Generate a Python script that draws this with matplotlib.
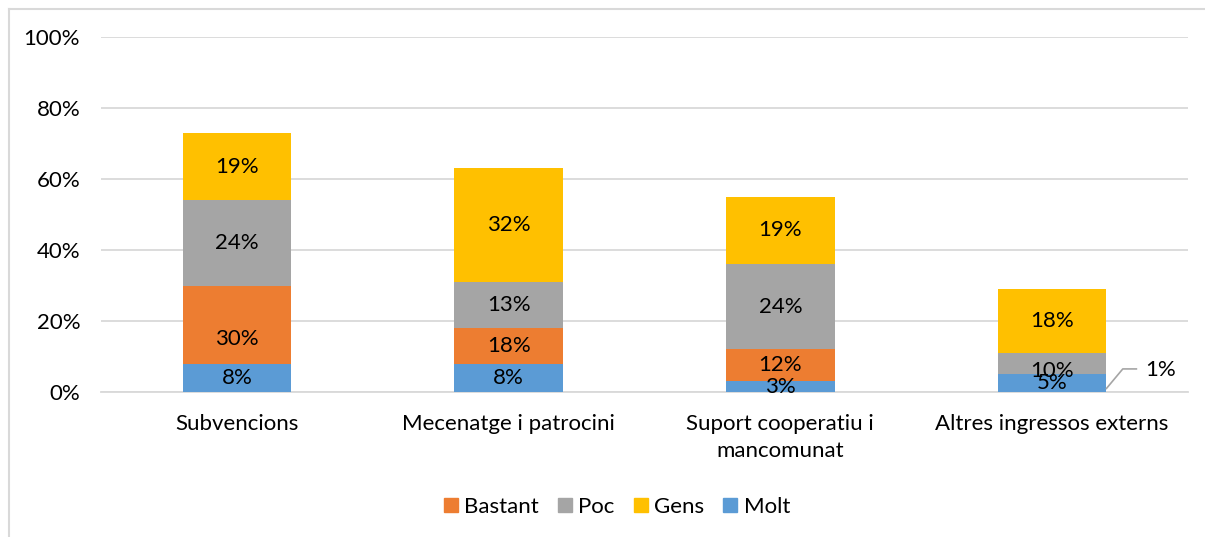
import matplotlib
matplotlib.use("Agg")
import matplotlib.pyplot as plt
from matplotlib.patches import Patch
from matplotlib.lines import Line2D
import numpy as np

categories = ["Subvencions", "Mecenatge i patrocini", "Suport cooperatiu i\nmancomunat", "Altres ingressos externs"]
bastant = [30, 18, 12, 1]
poc = [24, 13, 24, 10]
gens = [19, 32, 19, 18]
molt = [8, 8, 3, 5]
yticks = [0, 20, 40, 60, 80, 100]

C_BAS = "#ED7D31"
C_POC = "#A5A5A5"
C_GEN = "#FFC000"
C_MOL = "#5B9BD5"
GRID = "#D9D9D9"

plt.rcParams['font.family'] = ['Lato', 'DejaVu Sans']
FS = 16

fig = plt.figure(figsize=(12.05, 5.37), dpi=100)
W, H = 1205, 537
ax = fig.add_axes([101 / W, 1 - 392 / H, (1188 - 101) / W, (392 - 37) / H])

x = np.arange(len(categories))
bw = 0.4
b = np.array(bastant)
p = np.array(poc)
g = np.array(gens)
m = np.array(molt)

ax.bar(x, b, bw, color=C_BAS, zorder=2)
ax.bar(x, p, bw, bottom=b, color=C_POC, zorder=2)
ax.bar(x, g, bw, bottom=b + p, color=C_GEN, zorder=2)
ax.bar(x, m, bw, color=C_MOL, zorder=3)

for i in range(len(x)):
    # Molt label
    ax.text(x[i], max(m[i] / 2, 0.9), f"{m[i]}%", ha="center", va="center", fontsize=FS, zorder=5)
    # Bastant label
    if b[i] > m[i]:
        yb = b[i] / 2 if (b[i] / 2 - m[i]) > 5 else (m[i] + b[i]) / 2
        ax.text(x[i], yb, f"{b[i]}%", ha="center", va="center", fontsize=FS, zorder=5)
    else:
        # callout
        x0 = x[i] + bw / 2
        ax.plot([x0, x0 + 0.06, x0 + 0.11], [b[i], 6.5, 6.5], color="#A5A5A5", lw=1.2, zorder=4, clip_on=False)
        ax.text(x0 + 0.2, 6.2, f"{b[i]}%", ha="center", va="center", fontsize=FS, zorder=5)
    ax.text(x[i], b[i] + p[i] / 2, f"{p[i]}%", ha="center", va="center", fontsize=FS, zorder=5)
    ax.text(x[i], b[i] + p[i] + g[i] / 2, f"{g[i]}%", ha="center", va="center", fontsize=FS, zorder=5)

ax.set_xlim(-0.5, len(x) - 0.5)
ax.set_ylim(0, 100)
ax.set_yticks(yticks)
ax.set_yticklabels([f"{t}%" for t in yticks], fontsize=FS)
ax.set_xticks(x)
ax.set_xticklabels(categories, fontsize=FS, linespacing=1.45)
ax.tick_params(axis="both", length=0)
ax.tick_params(axis="y", pad=15)
ax.tick_params(axis="x", pad=16)
ax.grid(axis="y", color=GRID, lw=1.3, zorder=0)
for s in ["top", "right", "left"]:
    ax.spines[s].set_visible(False)
ax.spines["bottom"].set_color(GRID)
ax.spines["bottom"].set_linewidth(1.3)

handles = [Patch(color=C_BAS), Patch(color=C_POC), Patch(color=C_GEN), Patch(color=C_MOL)]
labels = ["Bastant", "Poc", "Gens", "Molt"]
fig.legend(handles, labels, loc="center", bbox_to_anchor=(617 / W, 1 - 507 / H), ncol=4, frameon=False,
           fontsize=16, handlelength=0.62, handleheight=0.62, handletextpad=0.3, columnspacing=0.85)

# outer border
fig.add_artist(Line2D([8.5 / W, 8.5 / W], [0, 1 - 8.5 / H], color=GRID, lw=1.5))
fig.add_artist(Line2D([8.5 / W, 1], [1 - 8.5 / H, 1 - 8.5 / H], color=GRID, lw=1.5))

fig.savefig("out.png", dpi=100)
